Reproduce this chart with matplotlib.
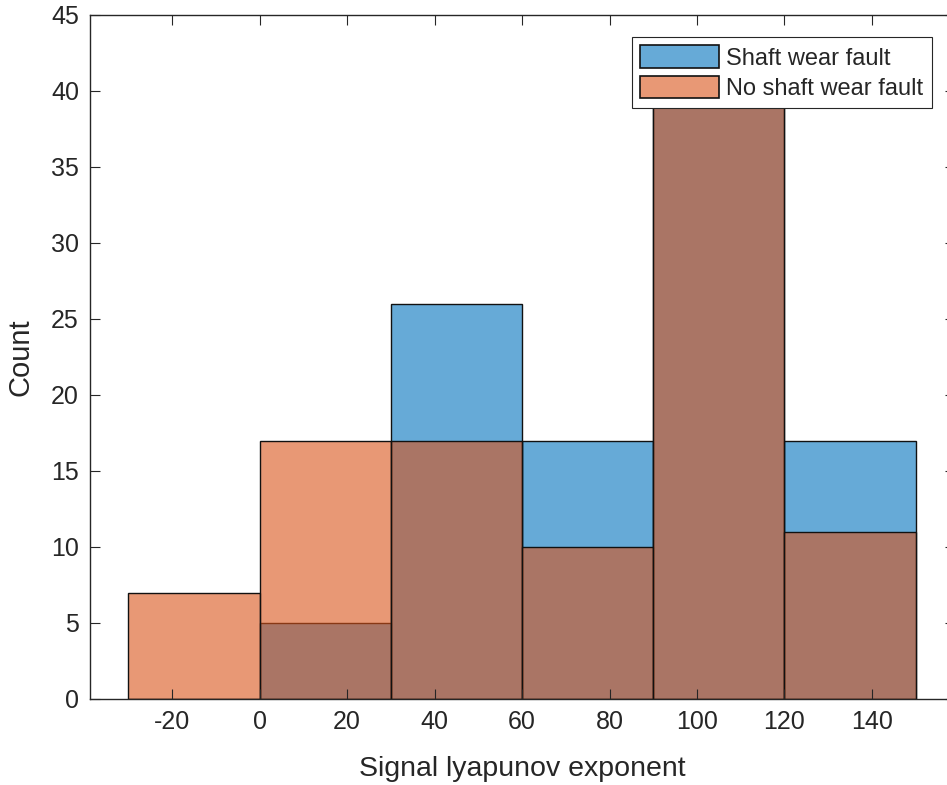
import matplotlib
matplotlib.use("Agg")
import matplotlib.pyplot as plt
from matplotlib.patches import Patch
import numpy as np

plt.rcParams['font.family'] = ['Liberation Sans', 'DejaVu Sans']
plt.rcParams['axes.unicode_minus'] = False

bin_edges = [-30, 0, 30, 60, 90, 120, 150]
shaft_wear = [0, 5, 26, 17, 40, 17]
no_shaft_wear = [7, 17, 17, 10, 42, 11]
labels = ["Shaft wear fault", "No shaft wear fault"]
xticks = [-20, 0, 20, 40, 60, 80, 100, 120, 140]
yticks = list(range(0, 50, 5))

blue = (0.0, 0.447, 0.741, 0.6)
orange = (0.85, 0.325, 0.098, 0.6)
txt = '#262626'

fig = plt.figure(figsize=(9.47, 7.85), dpi=100)
ax = fig.add_axes([90/947, 86/785, 865/947, 684/785])

left = np.array(bin_edges[:-1])
widths = np.diff(bin_edges)
ax.bar(left, shaft_wear, width=widths, align='edge', facecolor=blue,
       edgecolor='#111111', linewidth=1.0)
ax.bar(left, no_shaft_wear, width=widths, align='edge', facecolor=orange,
       edgecolor='#111111', linewidth=1.0)

ax.set_xlim(-38.8, 159)
ax.set_ylim(0, 45)
ax.set_xticks(xticks)
ax.set_yticks(yticks)
ax.tick_params(direction='in', length=7, width=0.8, colors=txt, labelsize=18,
               top=True, right=True, pad=8)
for s in ax.spines.values():
    s.set_color(txt)
    s.set_linewidth(1.0)

ax.set_xlabel("Signal lyapunov exponent", fontsize=20.5, color=txt, labelpad=16)
ax.set_ylabel("Count", fontsize=21, color=txt, labelpad=12)

handles = [Patch(facecolor=blue, edgecolor='#111111', linewidth=1.2),
           Patch(facecolor=orange, edgecolor='#111111', linewidth=1.2)]
leg = ax.legend(handles, labels, loc='upper left',
                bbox_to_anchor=((632 - 90) / 865, 1 - (37 - 15) / 684),
                bbox_transform=ax.transAxes,
                fontsize=17, frameon=True, fancybox=False, framealpha=1,
                edgecolor=txt, handlelength=3.35, handleheight=1.1, handletextpad=0.3,
                borderpad=0.35, labelspacing=0.25, borderaxespad=0)
leg.get_frame().set_linewidth(0.8)
for t in leg.get_texts():
    t.set_color(txt)

fig.savefig("out.png", dpi=100)
